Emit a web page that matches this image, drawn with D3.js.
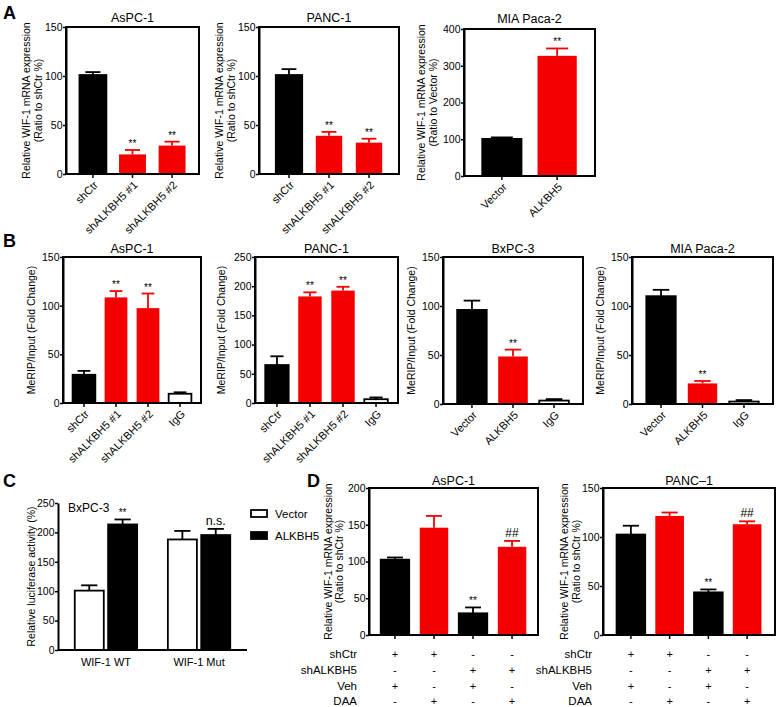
<!DOCTYPE html>
<html><head><meta charset="utf-8">
<script src="https://cdn.jsdelivr.net/npm/d3@7"></script>
<style>
body{margin:0;background:#fff;}
text{font-family:"Liberation Sans",Arial,sans-serif;fill:#000;}
</style>
</head><body>
<svg id="fig" width="778" height="707"></svg>
<script>
// ---------- Panel A ----------
const aAsPC1Cats = ["shCtr","shALKBH5 #1","shALKBH5 #2"];
const aAsPC1Means = [101,20,29];
const aAsPC1Errs = [3,4.5,4];
const aAsPC1Sig = ["","**","**"];

const aPANC1Cats = ["shCtr","shALKBH5 #1","shALKBH5 #2"];
const aPANC1Means = [101,39,32];
const aPANC1Errs = [6,4,4];
const aPANC1Sig = ["","**","**"];

const aMIACats = ["Vector","ALKBH5"];
const aMIAMeans = [101,327];
const aMIAErrs = [4,20];
const aMIASig = ["","**"];

// ---------- Panel B ----------
const bAsPC1Cats = ["shCtr","shALKBH5 #1","shALKBH5 #2","IgG"];
const bAsPC1Means = [29,108.5,97.5,9.5];
const bAsPC1Errs = [4,6.5,15,1.5];
const bAsPC1Sig = ["","**","**",""];

const bPANC1Cats = ["shCtr","shALKBH5 #1","shALKBH5 #2","IgG"];
const bPANC1Means = [65,182.5,192.5,6.5];
const bPANC1Errs = [15,7,6.5,3];
const bPANC1Sig = ["","**","**",""];

const bBxPC3Cats = ["Vector","ALKBH5","IgG"];
const bBxPC3Means = [96,48.5,3.5];
const bBxPC3Errs = [9.5,7,1.5];
const bBxPC3Sig = ["","**",""];

const bMIACats = ["Vector","ALKBH5","IgG"];
const bMIAMeans = [110,21,2.5];
const bMIAErrs = [6.5,2.5,1.5];
const bMIASig = ["","**",""];

// ---------- Panel C ----------
const cGroups = ["WIF-1 WT","WIF-1 Mut"];
const cSeries = ["Vector","ALKBH5"];
const cVectorMeans = [101,188];
const cVectorErrs = [9,14.5];
const cALKBH5Means = [213.5,195.5];
const cALKBH5Errs = [8.5,10.5];
const cSig = ["**","n.s."];

// ---------- Panel D ----------
const dConds = ["shCtr+Veh","shCtr+DAA","shALKBH5+Veh","shALKBH5+DAA"];
const dRowLabels = ["shCtr","shALKBH5","Veh","DAA"];
const dSigns = [["+","+","-","-"],["-","-","+","+"],["+","-","+","-"],["-","+","-","+"]];
const dAsPC1Means = [102.5,146,29.5,120];
const dAsPC1Errs = [3,16,8,8];
const dAsPC1Sig = ["","","**","##"];
const dPANC1Means = [102.5,121.5,43.5,113];
const dPANC1Errs = [9,3.5,3,3];
const dPANC1Sig = ["","","**","##"];

// ---------- drawing ----------
const svg = d3.select("#fig");
const RED = "#f40000";
const FONT = "'Liberation Sans', Arial, sans-serif";

function drawYAxis(g, y, x0, ticks){
  const ax = g.append("g").attr("transform",`translate(${x0},0)`)
    .call(d3.axisLeft(y).tickValues(ticks).tickSize(3).tickSizeOuter(0).tickPadding(0.5));
  ax.select(".domain").attr("stroke","#000").attr("stroke-width",2);
  ax.selectAll(".tick line").attr("stroke","#000").attr("stroke-width",1.5);
  ax.selectAll(".tick text").attr("font-size",10.5).attr("font-family",FONT).attr("fill","#000");
  return ax;
}

function drawYLabel(g, lines, xs, yc){
  lines.forEach((t,i)=>{
    g.append("text").attr("transform",`translate(${xs[i]},${yc}) rotate(-90)`)
      .attr("text-anchor","middle").attr("dy","0.35em").attr("font-size",10.5).attr("fill","#000").text(t);
  });
}

function drawBars(g, x, y, cats, means, errs, sig, fills, y1){
  const bw = x.bandwidth();
  cats.forEach((c,i)=>{
    const f = fills[i];
    const col = f==="red" ? RED : "#000";
    const x0 = x(c), cx = x0 + bw/2;
    g.append("rect").attr("x",x0).attr("y",y(means[i])).attr("width",bw)
      .attr("height",y1 - y(means[i]))
      .attr("fill", f==="red"?RED:(f==="white"?"#fff":"#000"))
      .attr("stroke", col).attr("stroke-width", f==="red"?0:1.8);
    const yt = y(means[i]+errs[i]);
    g.append("line").attr("x1",cx).attr("x2",cx).attr("y1",y(means[i])).attr("y2",yt)
      .attr("stroke",col).attr("stroke-width",1.8);
    g.append("line").attr("x1",cx-bw*0.28).attr("x2",cx+bw*0.28).attr("y1",yt).attr("y2",yt)
      .attr("stroke",col).attr("stroke-width",1.8);
    if(sig[i]){
      const star = sig[i].startsWith("*");
      g.append("text").attr("x",cx).attr("y", yt-4)
        .attr("text-anchor","middle").attr("font-size", star?10:12).attr("fill","#000")
        .attr("dy", star ? "0.1em" : "0").text(sig[i]);
    }
  });
}

function barPanel(cfg){
  const g = svg.append("g");
  const [x0,x1,y0,y1] = cfg.box;
  const x = d3.scaleBand().domain(cfg.cats).range([x0,x1]).paddingInner(cfg.pin).paddingOuter(cfg.pout);
  const y = d3.scaleLinear().domain([0,cfg.ymax]).range([y1,y0]);
  drawBars(g, x, y, cfg.cats, cfg.means, cfg.errs, cfg.sig, cfg.fills, y1);
  g.append("rect").attr("x",x0).attr("y",y0).attr("width",x1-x0).attr("height",y1-y0)
    .attr("fill","none").attr("stroke","#000").attr("stroke-width",2);
  drawYAxis(g, y, x0, cfg.ticks);
  const xa = g.append("g").attr("transform",`translate(0,${y1})`)
    .call(d3.axisBottom(x).tickSize(4).tickSizeOuter(0).tickFormat(""));
  xa.select(".domain").remove();
  xa.selectAll(".tick line").attr("stroke","#000").attr("stroke-width",1.5);
  if(cfg.rot){
    cfg.cats.forEach(c=>{
      const cx = x(c)+x.bandwidth()/2;
      g.append("text").attr("transform",`translate(${cx+3},${y1+9}) rotate(-45)`)
        .attr("text-anchor","end").attr("dy","0.35em").attr("font-size",11).attr("fill","#000").text(c);
    });
  }
  g.append("text").attr("x",(x0+x1)/2).attr("y",cfg.titleY).attr("text-anchor","middle")
    .attr("font-size",12.5).attr("fill","#000").text(cfg.title);
  drawYLabel(g, cfg.ylab, cfg.ylabX, (y0+y1)/2);
  return {x,y,g};
}

[["A",3,19],["B",3,247],["C",3,487],["D",307,487]].forEach(([t,x,y])=>{
  svg.append("text").attr("x",x).attr("y",y).attr("font-size",18).attr("font-weight","bold").text(t);
});

const ylabA = ["Relative WIF-1 mRNA expression","(Ratio to shCtr %)"];
barPanel({cats:aAsPC1Cats,means:aAsPC1Means,errs:aAsPC1Errs,sig:aAsPC1Sig,fills:["black","red","red"],
  box:[66,199,27,174],ymax:150,ticks:[0,50,100,150],pin:0.32,pout:0.34,rot:true,
  title:"AsPC-1",titleY:22,ylab:ylabA,ylabX:[26,38]});
barPanel({cats:aPANC1Cats,means:aPANC1Means,errs:aPANC1Errs,sig:aPANC1Sig,fills:["black","red","red"],
  box:[259,399,27,174],ymax:150,ticks:[0,50,100,150],pin:0.34,pout:0.42,rot:true,
  title:"PANC-1",titleY:22,ylab:ylabA,ylabX:[219,231]});
barPanel({cats:aMIACats,means:aMIAMeans,errs:aMIAErrs,sig:aMIASig,fills:["black","red"],
  box:[464,595,29,176],ymax:400,ticks:[0,100,200,300,400],pin:0.29,pout:0.33,rot:true,
  title:"MIA Paca-2",titleY:23,ylab:["Relative WIF-1 mRNA expression","(Ratio to Vector %)"],ylabX:[421,433]});

const ylabB = ["MeRIP/Input (Fold Change)"];
barPanel({cats:bAsPC1Cats,means:bAsPC1Means,errs:bAsPC1Errs,sig:bAsPC1Sig,fills:["black","red","red","white"],
  box:[63,201,257,403],ymax:150,ticks:[0,50,100,150],pin:0.29,pout:0.3,rot:true,
  title:"AsPC-1",titleY:253,ylab:ylabB,ylabX:[31]});
barPanel({cats:bPANC1Cats,means:bPANC1Means,errs:bPANC1Errs,sig:bPANC1Sig,fills:["black","red","red","white"],
  box:[255,398,257,403],ymax:250,ticks:[0,50,100,150,200,250],pin:0.29,pout:0.31,rot:true,
  title:"PANC-1",titleY:253,ylab:ylabB,ylabX:[221]});
barPanel({cats:bBxPC3Cats,means:bBxPC3Means,errs:bBxPC3Errs,sig:bBxPC3Sig,fills:["black","red","white"],
  box:[443,583,257,404],ymax:150,ticks:[0,50,100,150],pin:0.28,pout:0.345,rot:true,
  title:"BxPC-3",titleY:253,ylab:ylabB,ylabX:[411]});
barPanel({cats:bMIACats,means:bMIAMeans,errs:bMIAErrs,sig:bMIASig,fills:["black","red","white"],
  box:[632,773,257,404],ymax:150,ticks:[0,50,100,150],pin:0.29,pout:0.345,rot:true,
  title:"MIA Paca-2",titleY:253,ylab:ylabB,ylabX:[600]});

// Panel C
(function(){
  const g = svg.append("g");
  const x0=58,x1=247,y0=503,y1=650;
  const xo = d3.scaleBand().domain(cGroups).range([x0,x1]).paddingInner(0.33).paddingOuter(0.18);
  const xi = d3.scaleBand().domain(cSeries).range([0,xo.bandwidth()]).paddingInner(0.13);
  const y = d3.scaleLinear().domain([0,250]).range([y1,y0]);
  const seriesMeans = [cVectorMeans,cALKBH5Means];
  const seriesErrs = [cVectorErrs,cALKBH5Errs];
  const fills = ["white","black"];
  cGroups.forEach((grp,gi)=>{
    cSeries.forEach((s,si)=>{
      const bx = xo(grp)+xi(s), bw = xi.bandwidth(), m = seriesMeans[si][gi], e = seriesErrs[si][gi];
      const cx = bx+bw/2;
      g.append("rect").attr("x",bx).attr("y",y(m)).attr("width",bw).attr("height",y1-y(m))
        .attr("fill",fills[si]==="white"?"#fff":"#000").attr("stroke","#000").attr("stroke-width",1.8);
      const yt = y(m+e);
      g.append("line").attr("x1",cx).attr("x2",cx).attr("y1",y(m)).attr("y2",yt).attr("stroke","#000").attr("stroke-width",1.8);
      g.append("line").attr("x1",cx-bw*0.28).attr("x2",cx+bw*0.28).attr("y1",yt).attr("y2",yt).attr("stroke","#000").attr("stroke-width",1.8);
      if(si===1){
        const sg = cSig[gi], star = sg.startsWith("*");
        g.append("text").attr("x",cx).attr("y",yt-4).attr("dy",star?"0.1em":"0").attr("text-anchor","middle")
          .attr("font-size",star?10:12.5).attr("fill","#000").text(sg);
      }
    });
  });
  drawYAxis(g, y, x0, [0,50,100,150,200,250]);
  g.append("line").attr("x1",x0).attr("x2",x1).attr("y1",y1).attr("y2",y1).attr("stroke","#000").attr("stroke-width",2);
  cGroups.forEach(grp=>{
    g.append("text").attr("x",xo(grp)+xo.bandwidth()/2).attr("y",y1+16).attr("text-anchor","middle")
      .attr("font-size",11).attr("fill","#000").text(grp);
  });
  g.append("text").attr("x",68).attr("y",512).attr("font-size",12).attr("fill","#000").text("BxPC-3");
  drawYLabel(g,["Relative luciferase activity (%)"],[31],(y0+y1)/2);
  cSeries.forEach((s,i)=>{
    const ly = 510 + i*22;
    g.append("rect").attr("x",251).attr("y",ly).attr("width",16).attr("height",7)
      .attr("fill",fills[i]==="white"?"#fff":"#000").attr("stroke","#000").attr("stroke-width",1.8);
    g.append("text").attr("x",275).attr("y",ly+3.5).attr("dy","0.35em").attr("font-size",11.5).attr("fill","#000").text(s);
  });
})();

// Panel D
const ylabD = ["Relative WIF-1 mRNA expression","(Ratio to shCtr %)"];
const dFills = ["black","red","black","red"];
const dA = barPanel({cats:dConds,means:dAsPC1Means,errs:dAsPC1Errs,sig:dAsPC1Sig,fills:dFills,
  box:[369,538,488,635],ymax:200,ticks:[0,50,100,150,200],pin:0.27,pout:0.3,rot:false,
  title:"AsPC-1",titleY:485,ylab:ylabD,ylabX:[328,339]});
const dP = barPanel({cats:dConds,means:dPANC1Means,errs:dPANC1Errs,sig:dPANC1Sig,fills:dFills,
  box:[603,775,488,635],ymax:150,ticks:[0,50,100,150],pin:0.26,pout:0.35,rot:false,
  title:"PANC\u20131",titleY:485,ylab:ylabD,ylabX:[564,576]});
const rowY = [654,670,686,701];
[[dA,357],[dP,592]].forEach(([p,lx])=>{
  dRowLabels.forEach((lab,r)=>{
    svg.append("text").attr("x",lx).attr("y",rowY[r]).attr("dy","0.35em").attr("text-anchor","end")
      .attr("font-size",11.5).attr("fill","#000").text(lab);
    dConds.forEach((c,ci)=>{
      svg.append("text").attr("x",p.x(c)+p.x.bandwidth()/2).attr("y",rowY[r]).attr("dy","0.35em")
        .attr("text-anchor","middle").attr("font-size",11).attr("fill","#000").text(dSigns[r][ci]);
    });
  });
});
</script>
</body></html>
